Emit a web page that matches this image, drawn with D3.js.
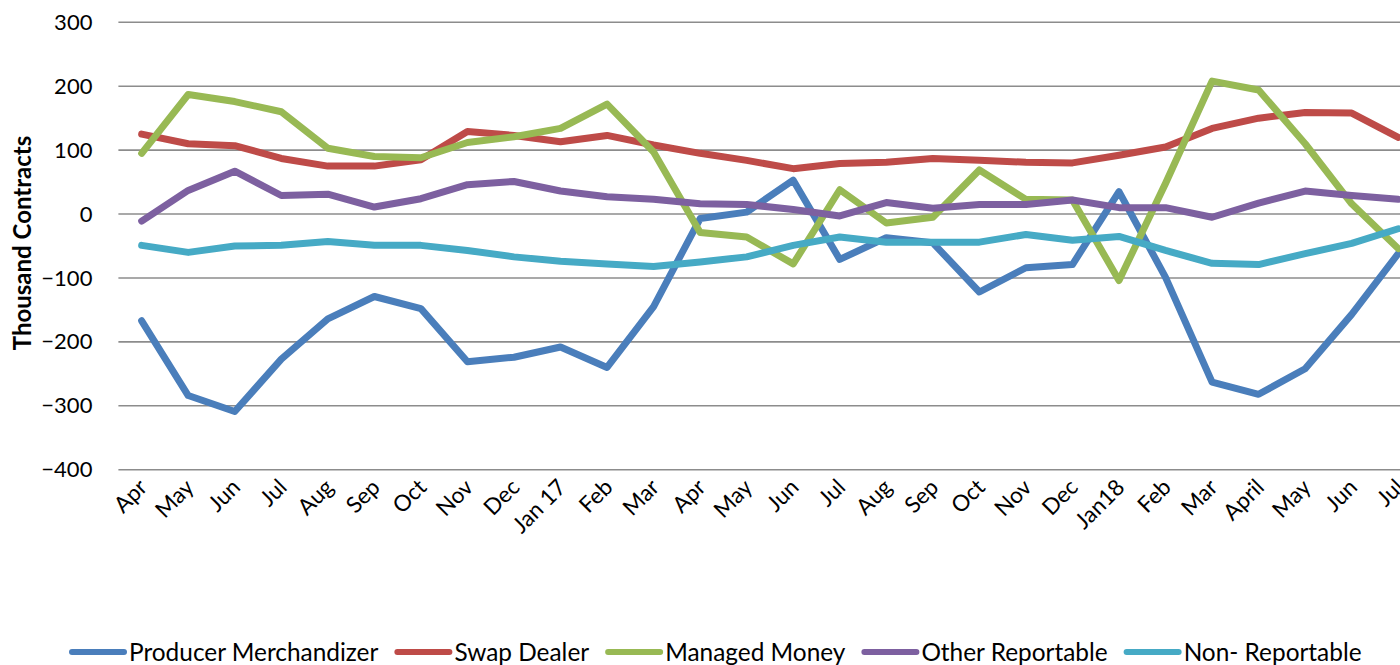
<!DOCTYPE html>
<html>
<head>
<meta charset="utf-8">
<script src="https://cdn.jsdelivr.net/npm/d3@7"></script>
<style>
  body { margin: 0; background: #fff; }
  svg { display: block; font-family: Lato, "Open Sans", sans-serif; }
</style>
</head>
<body>
<div id="chart"></div>
<script>
// month labels along the x axis
const months = ["Apr", "May", "Jun", "Jul", "Aug", "Sep", "Oct", "Nov", "Dec", "Jan 17",
  "Feb", "Mar", "Apr", "May", "Jun", "Jul", "Aug", "Sep", "Oct", "Nov", "Dec", "Jan18",
  "Feb", "Mar", "April", "May", "Jun", "Jul"];

const yTicks = [300, 200, 100, 0, -100, -200, -300, -400];

// net positions, thousand contracts
const producerMerchandizer = [-167, -284, -309, -227, -164, -129, -148, -231, -224, -208,
  -240, -145, -7, 3, 53, -71, -37, -45, -122, -84, -79, 35, -99, -263, -282, -242, -157, -62];
const swapDealer = [125, 110, 107, 87, 75, 75, 85, 129, 123, 113,
  123, 108, 95, 84, 71, 79, 81, 87, 84, 81, 80, 92, 105, 134, 150, 159, 158, 120];
const managedMoney = [95, 187, 176, 160, 103, 90, 88, 112, 121, 134,
  172, 97, -29, -36, -78, 38, -14, -5, 69, 23, 22, -104, 48, 208, 194, 110, 16, -54];
const otherReportable = [-11, 37, 67, 29, 31, 11, 24, 46, 51, 36,
  27, 23, 16, 15, 7, -3, 18, 9, 15, 15, 22, 10, 10, -5, 17, 36, 29, 23];
const nonReportable = [-49, -60, -50, -49, -43, -49, -49, -57, -67, -74,
  -78, -82, -75, -67, -49, -36, -44, -44, -44, -32, -41, -35, -57, -77, -79, -62, -46, -23];

const seriesNames = ["Producer Merchandizer", "Swap Dealer", "Managed Money", "Other Reportable", "Non- Reportable"];
const seriesValues = [producerMerchandizer, swapDealer, managedMoney, otherReportable, nonReportable];
const colors = ["#4a7ebb", "#be4b48", "#98b954", "#7d60a0", "#46aac5"];

const width = 1400, height = 665;
const plotLeft = 118.4, plotRight = 1421.5, plotTop = 22.3, plotBottom = 469.7;

const svg = d3.select("#chart").append("svg")
  .attr("width", width)
  .attr("height", height);

const x = d3.scalePoint()
  .domain(d3.range(months.length))
  .range([plotLeft, plotRight])
  .padding(0.5);

const y = d3.scaleLinear()
  .domain([-400, 300])
  .range([plotBottom, plotTop]);

// gridlines
svg.append("g").selectAll("line")
  .data(yTicks)
  .enter().append("line")
  .attr("x1", plotLeft)
  .attr("x2", plotRight)
  .attr("y1", d => y(d))
  .attr("y2", d => y(d))
  .attr("stroke", "#8c8c8c")
  .attr("stroke-width", 1.6);

// y axis labels
const yAxis = svg.append("g")
  .attr("transform", `translate(${plotLeft},0)`)
  .call(d3.axisLeft(y).tickValues(yTicks).tickSize(0).tickPadding(26));
yAxis.select(".domain").remove();
yAxis.selectAll("text")
  .attr("font-family", "Lato, sans-serif")
  .attr("font-size", 22)
  .attr("fill", "#000");

svg.append("text")
  .attr("transform", "translate(31,243) rotate(-90)")
  .attr("text-anchor", "middle")
  .attr("font-size", 24)
  .attr("font-weight", "bold")
  .text("Thousand Contracts");

// x labels, rotated
svg.append("g").selectAll("text")
  .data(months)
  .enter().append("text")
  .attr("transform", (d, i) => `translate(${x(i) + 7},${plotBottom + 19}) rotate(-45)`)
  .attr("text-anchor", "end")
  .attr("font-size", 22.5)
  .text(d => d);

// series lines
const line = d3.line()
  .x((d, i) => x(i))
  .y(d => y(d));

svg.append("g").selectAll("path")
  .data(seriesValues)
  .enter().append("path")
  .attr("d", line)
  .attr("fill", "none")
  .attr("stroke", (d, i) => colors[i])
  .attr("stroke-width", 7)
  .attr("stroke-linejoin", "round")
  .attr("stroke-linecap", "round");

// legend
const legend = svg.append("g");
let lx = 69;
const ly = 652;
seriesNames.forEach((name, i) => {
  legend.append("line")
    .attr("x1", lx + 3).attr("x2", lx + 55)
    .attr("y1", ly).attr("y2", ly)
    .attr("stroke", colors[i])
    .attr("stroke-width", 6)
    .attr("stroke-linecap", "round");
  const t = legend.append("text")
    .attr("x", lx + 60)
    .attr("y", ly + 9)
    .attr("font-size", 24.4)
    .text(name);
  lx += 60 + t.node().getComputedTextLength() + 16;
});
</script>
</body>
</html>
